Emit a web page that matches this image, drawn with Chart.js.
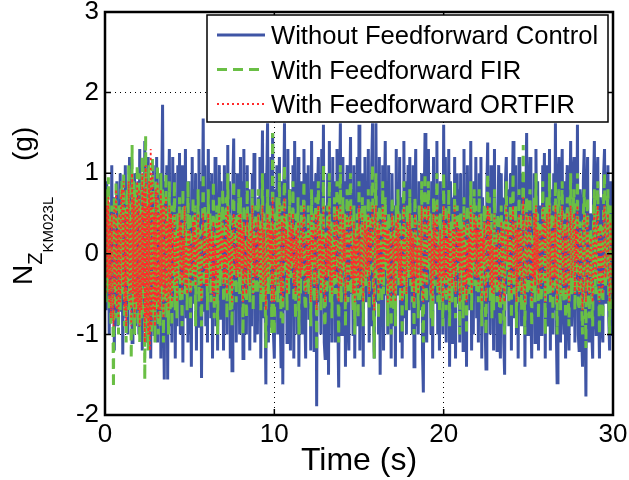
<!DOCTYPE html>
<html>
<head>
<meta charset="utf-8">
<title>N_Z KM023L vs time</title>
<script src="https://cdn.jsdelivr.net/npm/chart.js@4.4.1/dist/chart.umd.min.js"></script>
<style>
  html, body { margin: 0; padding: 0; background: #fff; }
</style>
</head>
<body>
<canvas id="nzChart" width="629" height="480"></canvas>
<script>
// sample spacing of the traces (s)
const timeStep = 0.05;

const seriesNames = [
  "Without Feedforward Control",
  "With Feedforward FIR",
  "With Feedforward ORTFIR",
];

// N_Z at KM023L (g), one value per 0.05 s (one row = 1 s)
const withoutFF = [
  0.2, -0.7, 0.9, -0.3, 0.6, -1.0, 0.4, -0.8, 1.1, -0.5, 0.7, -1.2, 0.3, -0.6, 0.9, -0.9, 0.5, -0.4, 1.0, -0.7,
  0.8, -1.25, 0.5, -0.3, 1.1, -0.8, 0.6, -1.0, 0.2, 1.2, -0.6, 0.4, -1.1, 0.9, -0.5, 1.0, -0.9, 0.3, -0.7, 0.9,
  -1.0, 1.3, -0.4, 0.8, -1.2, 0.5, -0.7, 1.4, -0.9, 0.6, -1.1, 1.2, -0.5, 0.9, -1.3, 0.7, -0.6, 1.1, -1.0, 0.4,
  -0.8, 1.2, -1.1, 0.6, -0.4, 1.0, -1.3, 0.8, 1.85, -0.5, -1.56, 0.9, -0.7, 1.1, -1.56, 0.5, 1.3, -0.9, 0.6, -1.1,
  1.2, -0.6, 1.0, -1.3, 0.4, -0.9, 1.1, -0.5, 1.25, -1.0, 0.3, 1.1, -1.35, 0.7, -0.4, 1.3, -0.8, 0.6, -1.1, 0.9,
  -1.0, 0.5, -1.4, 1.2, -0.6, 0.8, -0.3, 1.0, -1.2, 0.7, -0.9, 1.3, -0.5, 0.9, -1.54, 0.4, 1.68, -0.7, 1.1, -0.9,
  0.6, -1.1, 1.3, -0.4, 0.9, -0.8, 1.0, -1.3, 0.5, -0.6, 1.2, -0.9, 0.7, -1.2, 0.3, 1.1, -0.8, 0.9, -0.5, 0.6,
  -1.2, 1.1, -0.5, 0.7, -1.0, 1.35, -0.6, 0.9, -1.3, 0.4, -1.45, 0.8, 1.43, -0.7, 0.5, -1.1, 1.0, -0.4, 0.8, -1.0,
  1.2, -0.5, 0.9, -1.3, 1.3, -0.7, 0.4, -1.0, 1.1, -0.6, 0.8, -1.2, 0.5, -0.9, 1.0, -0.4, 1.25, -1.1, 0.6, -0.8,
  -1.0, 0.7, -0.4, 1.2, -1.3, 0.6, 1.53, -0.8, 1.0, -0.5, -1.62, 0.9, 1.62, -1.1, 0.7, -0.9, 1.2, -0.6, 1.5, -1.0,
  -1.3, 0.8, -0.5, 1.1, -1.0, 0.4, 1.2, -0.8, -1.4, 0.9, -1.62, 0.6, 1.62, -0.7, 0.9, -1.1, 1.3, -0.5, 0.8, -1.2,
  0.8, -0.6, 1.1, -1.3, 1.4, -0.4, 0.7, -1.0, 1.2, -1.4, 0.5, -0.8, 0.9, -1.0, 0.4, 1.3, -0.7, -1.3, 1.0, -0.5,
  1.1, -0.8, 0.6, -1.2, 1.4, -0.5, 0.9, -1.2, 0.3, 1.0, -1.89, 0.7, 1.2, -0.6, 0.8, -1.0, 1.3, -0.4, 1.6, -1.1,
  -1.3, 0.6, -0.9, 1.0, -1.5, 1.4, -0.5, 0.8, -1.1, 1.2, -0.7, 0.9, -1.1, 0.5, 1.3, -0.8, -1.66, 0.7, 1.62, -1.0,
  -1.0, 1.2, -0.6, 0.9, -1.4, 0.4, 1.1, -0.8, -1.2, 0.6, 1.45, -0.5, 0.8, -1.0, 1.1, -1.3, 0.6, -0.7, 1.2, -0.9,
  1.6, -1.2, 0.5, -0.8, 1.0, -1.4, 0.7, 1.2, -0.6, 0.9, -0.4, 1.3, -1.1, 0.6, -0.9, 1.1, 1.62, -0.7, -1.3, 0.8,
  1.62, -0.6, 0.9, -1.0, 1.2, -1.5, 0.4, -0.8, 1.1, -1.2, 0.6, 1.4, -0.5, 0.9, -1.0, 1.1, -0.7, 0.5, -1.3, 1.0,
  1.0, -0.9, 0.6, -1.4, 1.3, -0.5, 0.8, -0.3, 1.2, -1.1, 0.7, -1.3, 0.4, 1.4, -0.8, 0.9, -1.0, 0.5, 1.1, -0.7,
  1.2, -0.5, 0.8, -1.0, 1.1, -1.4, 0.6, 1.3, -0.9, 0.4, -1.0, 0.9, 0.4, -0.7, 1.0, -1.2, -1.72, 0.6, 1.5, -0.8,
  -1.1, 0.7, 1.3, -0.6, 0.4, -1.0, 0.9, -1.3, 1.2, -0.5, 0.8, -0.6, 1.4, -1.0, 0.5, -1.2, 0.9, -0.7, 0.5, -1.0,
  1.6, -0.8, 1.2, -1.1, 0.6, -0.5, 1.3, -1.4, 0.9, 0.3, -1.1, 0.7, -0.8, 1.2, -1.3, 0.5, 1.0, -0.6, 0.8, -1.1,
  1.0, -0.6, 0.7, -1.2, 1.3, -0.9, 0.4, -1.4, 1.1, -0.5, 0.8, -0.7, 1.4, -1.2, 0.6, -1.0, 0.9, -0.4, 1.2, -0.8,
  0.6, -1.1, 1.0, -0.5, 1.2, -1.3, 0.7, -0.4, 0.5, -0.9, -1.43, 0.8, 1.38, -0.6, 0.9, -1.0, 1.1, -0.7, 0.4, -1.2,
  1.3, -0.8, 0.5, -1.2, 0.4, 1.1, -0.9, -1.3, 1.0, -0.6, 0.7, -1.1, -1.5, 0.9, 1.2, -0.5, 0.8, -0.9, 0.6, 1.0,
  -1.2, 0.6, 1.4, -0.8, -0.4, 1.1, -1.0, 0.7, -1.3, 1.2, -0.6, 0.8, -0.9, 1.0, -0.5, 0.9, -1.4, 0.6, 1.5, -1.0,
  -1.0, 0.8, 1.2, -0.7, -1.3, 0.5, -0.8, 1.0, -1.1, 1.3, -0.6, 0.9, -1.2, 0.4, 0.6, -1.0, -0.8, 1.1, 0.5, 1.25,
  -1.3, 0.7, 1.1, -0.9, -0.5, 1.3, -1.2, 0.8, 0.6, -1.0, 1.0, -0.7, 1.62, -0.9, -1.6, 0.8, 1.2, -0.6, -1.1, 0.9,
  1.3, -0.6, -1.0, 0.9, -1.3, 0.7, 1.1, -0.8, -1.2, 0.5, 1.4, -0.9, -0.5, 1.0, 1.2, -1.1, 0.6, -0.7, 1.6, -1.0,
  -1.2, 0.8, 0.6, -1.0, -1.4, 0.9, 1.3, -0.6, -1.77, 0.7, 1.2, -0.9, -1.1, 0.5, 0.4, -1.0, -1.3, 0.8, 1.4, -0.7,
  -1.0, 0.9, 1.2, -0.5, -1.3, 0.7, 0.5, -0.9, -1.1, 1.0, 1.3, -0.6, -0.6, 1.0, 1.1, -0.8, -1.2, 0.9, 0.6, -1.0,
  -1.0,
];

const withFIR = [
  0.3, -0.6, 0.8, -0.4, 0.95, -0.7, 0.5, -0.9, 0.6, -0.3, -1.66, 0.7, -0.5, 0.9, -0.8, 0.4, -1.0, 0.6, -0.7, 0.8,
  0.9, -0.5, 1.0, -0.9, 0.6, -1.1, 0.8, -0.4, 1.1, -0.7, 0.5, -1.3, 1.35, -0.6, 0.9, -1.0, 0.8, -0.7, 1.1, -0.9,
  1.0, -1.1, 0.6, -0.8, 1.2, -0.5, 0.9, -1.56, 1.47, -1.0, 0.7, -1.2, 1.1, -0.6, 0.9, -1.0, 1.2, -0.8, 0.5, -1.1,
  0.9, -0.7, 1.1, -1.0, 0.6, -0.9, 1.0, -0.5, 0.8, -1.1, 0.7, -0.6, 1.0, -0.8, 0.5, -1.0, 0.9, -0.7, 0.6, -0.9,
  0.6, -0.4, 0.9, -0.7, 0.3, -0.8, 0.5, -0.3, 0.7, -0.6, 0.4, -0.9, 0.8, -0.2, 0.6, -0.5, 0.3, -0.7, 0.9, -0.4,
  0.5, -0.8, 0.2, -0.4, 0.7, -0.3, 0.6, -0.9, 0.4, -0.2, 0.8, -0.6, 0.3, -0.5, -0.9, 0.2, 1.0, -0.4, 0.6, -0.3,
  0.4, -0.7, 0.8, -0.2, 0.5, -0.6, 0.3, -0.4, 0.9, -0.8, 0.2, -0.5, 0.6, -1.0, 0.3, 0.7, -0.4, 0.5, -0.3, 0.8,
  -0.6, 0.3, -0.4, 0.7, -0.8, 1.0, -0.2, 0.5, -0.7, 0.3, -0.9, 0.6, 0.9, -0.4, 0.2, -0.6, 0.5, -0.3, 0.8, -0.5,
  0.7, -0.3, 0.4, -1.0, 0.6, -0.5, 0.2, -0.8, 0.9, -0.4, 0.3, -0.6, 0.5, -0.2, 0.8, -0.7, 0.4, -0.5, 0.6, -0.3,
  -0.5, 0.8, -0.3, 0.4, -0.7, 0.2, 1.0, -0.6, 0.5, -0.4, -1.17, 0.3, 0.8, -0.5, 0.6, -0.2, 0.4, -1.0, 1.5, -0.6,
  -1.0, 0.5, -0.3, 0.7, -0.6, 0.2, 1.0, -0.4, -0.8, 0.6, -0.9, 0.3, 1.1, -0.2, 0.5, -0.7, 0.4, -0.5, 0.8, -0.3,
  0.4, -0.2, 0.9, -0.6, 0.3, -0.8, 0.5, -0.4, 0.7, -1.0, 0.2, -0.5, 0.6, -0.3, 0.4, 0.9, -0.6, -0.7, 0.3, -0.4,
  0.6, -0.5, 0.3, -0.9, 0.8, -0.2, 0.5, -0.6, 0.2, 0.7, -1.2, 0.4, 0.9, -0.3, 0.5, -0.7, 0.3, -0.4, 1.1, -0.8,
  -0.9, 0.3, -0.5, 0.6, -0.3, 1.0, -0.6, 0.4, -0.8, 0.2, -0.4, 0.7, -0.5, 0.3, 0.9, -0.2, -1.1, 0.5, 1.1, -0.6,
  -0.4, 0.7, -0.2, 0.5, -0.9, 0.3, 0.8, -0.6, -0.3, 0.4, 1.0, -0.5, 0.2, -0.7, 0.6, -1.0, 0.3, -0.4, 0.5, -0.8,
  0.9, -0.6, 0.3, -0.5, 0.7, -0.9, 0.2, 0.6, -0.4, 0.5, -0.3, 0.8, -0.7, 0.4, -0.2, 0.6, 1.1, -0.5, -1.3, 0.4,
  1.0, -0.3, 0.5, -0.8, 0.6, -0.4, 0.2, -0.6, 0.9, -0.5, 0.3, 0.7, -0.2, 0.4, -0.9, 0.5, -0.6, 0.3, -1.0, 0.7,
  0.5, -0.7, 0.3, -0.9, 0.6, -0.2, 0.8, -0.4, 0.5, -0.6, 0.2, -1.0, 0.4, 0.9, -0.5, 0.3, -0.7, 0.6, 0.4, -0.3,
  0.8, -0.4, 0.5, -0.6, 0.3, -1.0, 0.7, 0.4, -0.5, 0.2, -0.8, 0.6, 0.3, -0.4, 0.9, -0.7, -1.1, 0.5, 1.0, -0.3,
  -0.6, 0.4, 0.9, -0.2, 0.5, -0.8, 0.3, -0.9, 0.7, -0.4, 0.6, -0.3, 1.0, -0.6, 0.2, -0.7, 0.5, -0.4, 0.3, -0.9,
  1.0, -0.4, 0.6, -0.7, 0.3, -0.5, 0.8, -0.9, 0.4, 0.2, -0.6, 0.5, -0.3, 0.9, -0.8, 0.3, 0.6, -0.2, 0.5, -1.0,
  0.5, -0.3, 0.4, -0.8, 0.7, -0.6, 0.2, -1.0, 0.6, -0.4, 0.3, -0.5, 0.9, -0.7, 0.5, -0.2, 0.8, -0.4, 0.6, -0.5,
  0.4, -0.6, 0.8, -0.3, 0.5, -0.9, 0.3, -0.2, 0.6, -0.5, -1.0, 0.4, 1.0, -0.3, 0.7, -0.6, 0.5, -0.8, 0.2, -0.7,
  0.8, -0.4, 0.2, -0.6, 0.5, 0.3, -0.7, -0.9, 0.6, -0.3, 0.4, -0.8, -1.0, 0.5, 0.9, -0.2, 0.4, -0.6, 0.3, 0.7,
  -0.8, 0.3, 1.0, -0.5, -0.2, 0.6, -0.92, 0.4, -0.6, 0.8, -0.3, 0.5, -0.7, 0.2, 1.35, -0.4, -1.0, 0.3, 0.7, -0.5,
  -0.4, 0.6, 0.8, -0.3, -0.9, 0.2, -0.5, 0.7, -0.6, 1.0, -0.3, 0.5, -0.8, 0.3, 0.4, -0.6, -0.4, 0.9, 0.2, 0.6,
  -1.0, 0.4, 0.7, -0.5, -0.2, 1.0, -0.6, 0.3, 0.5, -0.8, 0.6, -0.4, 0.9, -0.3, -1.0, 0.5, 0.8, -0.2, -0.7, 0.4,
  0.9, -0.3, -0.6, 0.5, -0.8, 0.2, 0.7, -0.4, -0.9, 0.3, 1.0, -0.5, -0.3, 0.6, 0.8, -0.7, 0.4, -0.2, 1.0, -0.6,
  -0.7, 0.4, 0.3, -0.6, -1.0, 0.5, 0.8, -0.3, -1.17, 0.4, 0.7, -0.5, -0.8, 0.2, 0.3, -0.6, -0.9, 0.5, 0.8, -0.4,
  -0.5, 0.6, 0.9, -0.3, -1.0, 0.4, 0.2, -0.6, -0.8, 0.7, 1.0, -0.4, -0.3, 0.5, 0.8, -0.5, -1.0, 0.6, 0.3, -0.7,
  -0.7,
];

const withORTFIR = [
  0.1, -0.5, 0.6, -0.3, 0.7, -0.6, 0.4, -0.8, 0.5, -0.3, -0.9, 0.6, -0.4, 0.8, -0.7, 0.3, -0.8, 0.5, -0.6, 0.7,
  0.8, -0.4, 0.9, -0.7, 0.5, -0.9, 0.6, -0.3, 0.9, -0.6, 0.4, -0.9, 1.0, -0.5, 0.7, -0.8, 0.6, -0.6, 0.9, -0.7,
  0.8, -0.9, 0.5, -0.7, 1.0, -0.4, 0.8, -1.1, 1.1, -0.8, 0.6, -1.0, 0.9, -1.2, 1.3, -0.9, 1.0, -0.7, 0.5, -0.9,
  0.8, -0.6, 0.9, -0.8, 0.5, -0.7, 0.8, -0.4, 0.6, -0.8, 0.6, -0.5, 0.7, -0.6, 0.4, -0.7, 0.6, -0.5, 0.5, -0.6,
  0.4, -0.2, 0.5, -0.4, 0.2, -0.6, 0.3, -0.1, 0.5, -0.3, 0.4, -0.5, 0.2, -0.3, 0.6, -0.4, 0.1, -0.5, 0.3, -0.2,
  0.3, -0.5, 0.1, -0.2, 0.4, -0.3, 0.5, -0.4, 0.2, -0.1, 0.5, -0.3, 0.2, -0.4, -0.6, 0.1, 0.5, -0.2, 0.3, -0.4,
  0.2, -0.4, 0.5, -0.1, 0.3, -0.3, 0.2, -0.5, 0.4, -0.6, 0.1, -0.3, 0.4, -0.5, 0.2, 0.5, -0.2, 0.3, -0.1, 0.4,
  -0.4, 0.2, -0.3, 0.5, -0.5, 0.6, -0.1, 0.3, -0.4, 0.2, -0.6, 0.4, 0.5, -0.2, 0.1, -0.3, 0.4, -0.2, 0.5, -0.3,
  0.5, -0.2, 0.3, -0.6, 0.4, -0.3, 0.1, -0.5, 0.5, -0.2, 0.2, -0.4, 0.3, -0.1, 0.6, -0.5, 0.2, -0.3, 0.4, -0.2,
  -0.3, 0.5, -0.2, 0.3, -0.5, 0.1, 0.6, -0.4, 0.3, -0.2, -0.7, 0.2, 0.5, -0.3, 0.4, -0.1, 0.3, -0.6, 0.7, -0.4,
  -0.6, 0.3, -0.2, 0.4, -0.4, 0.1, 0.6, -0.3, -0.5, 0.4, -0.6, 0.2, 0.7, -0.1, 0.3, -0.5, 0.2, -0.3, 0.5, -0.2,
  0.3, -0.1, 0.5, -0.4, 0.2, -0.5, 0.3, -0.2, 0.4, -0.6, 0.1, -0.3, 0.4, -0.2, 0.3, 0.6, -0.4, -0.5, 0.2, -0.3,
  0.4, -0.3, 0.2, -0.6, 0.5, -0.1, 0.3, -0.4, 0.1, 0.5, -0.7, 0.3, 0.6, -0.2, 0.3, -0.5, 0.2, -0.3, 0.6, -0.5,
  -0.6, 0.2, -0.3, 0.4, -0.2, 0.6, -0.4, 0.3, -0.5, 0.1, -0.3, 0.5, -0.3, 0.2, 0.6, -0.1, -0.6, 0.3, 0.6, -0.4,
  -0.3, 0.5, -0.1, 0.3, -0.6, 0.2, 0.5, -0.4, -0.2, 0.3, 0.6, -0.3, 0.1, -0.5, 0.4, -0.6, 0.2, -0.3, 0.3, -0.5,
  0.6, -0.4, 0.2, -0.3, 0.5, -0.6, 0.1, 0.4, -0.3, 0.3, -0.2, 0.5, -0.5, 0.3, -0.1, 0.4, 0.6, -0.3, -0.7, 0.3,
  0.6, -0.2, 0.3, -0.5, 0.4, -0.3, 0.1, -0.4, 0.6, -0.3, 0.2, 0.5, -0.1, 0.3, -0.6, 0.3, -0.4, 0.2, -0.6, 0.5,
  0.3, -0.5, 0.2, -0.6, 0.4, -0.1, 0.5, -0.3, 0.3, -0.4, 0.1, -0.6, 0.3, 0.6, -0.3, 0.2, -0.5, 0.4, 0.3, -0.2,
  0.5, -0.3, 0.3, -0.4, 0.2, -0.6, 0.5, 0.3, -0.3, 0.1, -0.5, 0.4, 0.2, -0.3, 0.6, -0.5, -0.6, 0.3, 0.6, -0.2,
  -0.4, 0.3, 0.6, -0.1, 0.3, -0.5, 0.2, -0.6, 0.5, -0.3, 0.4, -0.2, 0.6, -0.4, 0.1, -0.5, 0.3, -0.3, 0.2, -0.6,
  0.6, -0.3, 0.4, -0.5, 0.2, -0.3, 0.5, -0.6, 0.3, 0.1, -0.4, 0.3, -0.2, 0.6, -0.5, 0.2, 0.4, -0.1, 0.3, -0.6,
  0.3, -0.2, 0.3, -0.5, 0.5, -0.4, 0.1, -0.6, 0.4, -0.3, 0.2, -0.3, 0.6, -0.5, 0.3, -0.1, 0.5, -0.3, 0.4, -0.3,
  0.3, -0.4, 0.5, -0.2, 0.3, -0.6, 0.2, -0.1, 0.4, -0.3, -0.6, 0.3, 0.6, -0.2, 0.5, -0.4, 0.3, -0.5, 0.1, -0.5,
  0.5, -0.3, 0.1, -0.4, 0.3, 0.2, -0.5, -0.6, 0.4, -0.2, 0.3, -0.5, -0.6, 0.3, 0.6, -0.1, 0.3, -0.4, 0.2, 0.5,
  -0.5, 0.2, 0.6, -0.3, -0.1, 0.4, -0.6, 0.3, -0.4, 0.5, -0.2, 0.3, -0.5, 0.1, 0.7, -0.3, -0.6, 0.2, 0.5, -0.3,
  -0.3, 0.4, 0.5, -0.2, -0.6, 0.1, -0.3, 0.5, -0.4, 0.6, -0.2, 0.3, -0.5, 0.2, 0.3, -0.4, -0.3, 0.6, 0.1, 0.4,
  -0.6, 0.3, 0.5, -0.3, -0.1, 0.6, -0.4, 0.2, 0.3, -0.5, 0.4, -0.3, 0.6, -0.2, -0.6, 0.3, 0.5, -0.1, -0.5, 0.3,
  0.6, -0.2, -0.4, 0.3, -0.5, 0.1, 0.5, -0.3, -0.6, 0.2, 0.6, -0.3, -0.2, 0.4, 0.5, -0.5, 0.3, -0.1, 0.6, -0.4,
  -0.5, 0.3, 0.2, -0.4, -0.7, 0.3, 0.5, -0.2, -0.6, 0.3, 0.5, -0.3, -0.5, 0.1, 0.2, -0.4, -0.6, 0.3, 0.5, -0.3,
  -0.3, 0.4, 0.6, -0.2, -0.6, 0.3, 0.1, -0.4, -0.5, 0.5, 0.6, -0.3, -0.2, 0.3, 0.5, -0.3, -0.6, 0.4, 0.2, -0.5,
  -0.4,
];

const xTicks = [0, 10, 20, 30];
const yTicks = [-2, -1, 0, 1, 2, 3];

const fontFamily = "'Liberation Sans', Arial, Helvetica, sans-serif";

function toPoints(values) {
  return values.map((v, i) => ({ x: i * timeStep, y: v }));
}

// MATLAB-ish box, inward ticks, legend and the y label with subscripts
const matlabAxes = {
  id: "matlabAxes",
  afterDatasetsDraw(chart) {
    const { ctx, chartArea: a, scales } = chart;
    ctx.save();
    ctx.strokeStyle = "#000";
    ctx.setLineDash([]);
    ctx.lineWidth = 1.5;
    ctx.beginPath();
    xTicks.forEach((v) => {
      const px = scales.x.getPixelForValue(v);
      ctx.moveTo(px, a.bottom); ctx.lineTo(px, a.bottom - 6);
      ctx.moveTo(px, a.top); ctx.lineTo(px, a.top + 6);
    });
    yTicks.forEach((v) => {
      const py = scales.y.getPixelForValue(v);
      ctx.moveTo(a.left, py); ctx.lineTo(a.left + 6, py);
      ctx.moveTo(a.right, py); ctx.lineTo(a.right - 6, py);
    });
    ctx.stroke();
    ctx.lineWidth = 2.5;
    ctx.strokeRect(a.left, a.top, a.right - a.left, a.bottom - a.top);
    ctx.restore();
  },
  afterDraw(chart) {
    const { ctx, chartArea: a } = chart;

    // legend
    const bx = a.left + 102, by = a.top + 3, bw = 401, bh = 107;
    ctx.save();
    ctx.fillStyle = "#fff";
    ctx.fillRect(bx, by, bw, bh);
    ctx.strokeStyle = "#000";
    ctx.lineWidth = 1.5;
    ctx.strokeRect(bx, by, bw, bh);
    ctx.font = "25.6px " + fontFamily;
    ctx.textBaseline = "alphabetic";
    chart.data.datasets.forEach((ds, i) => {
      const base = by + 29 + i * 34.5;
      ctx.strokeStyle = ds.borderColor;
      ctx.lineWidth = ds.borderWidth;
      ctx.setLineDash(ds.borderDash || []);
      ctx.beginPath();
      ctx.moveTo(bx + 10, base - 9);
      ctx.lineTo(bx + 58, base - 9);
      ctx.stroke();
      ctx.fillStyle = "#000";
      ctx.fillText(ds.label, bx + 64, base);
    });
    ctx.restore();

    // y axis label: N_{Z_{KM023L}} (g)
    ctx.save();
    ctx.translate(32, 285);
    ctx.rotate(-Math.PI / 2);
    ctx.fillStyle = "#000";
    ctx.textBaseline = "alphabetic";
    ctx.font = "28px " + fontFamily;
    ctx.fillText("N", 0, 0);
    let w = ctx.measureText("N").width;
    ctx.font = "20px " + fontFamily;
    ctx.fillText("Z", w, 10);
    w += ctx.measureText("Z").width;
    ctx.font = "15px " + fontFamily;
    ctx.fillText("KM023L", w, 21);
    ctx.font = "28px " + fontFamily;
    ctx.fillText("(g)", 124, 0);
    ctx.restore();
  },
};

const ctx = document.getElementById("nzChart").getContext("2d");

new Chart(ctx, {
  type: "line",
  data: {
    datasets: [
      {
        label: seriesNames[0],
        data: toPoints(withoutFF),
        borderColor: "#3f55a5",
        borderWidth: 3,
        order: 3,
      },
      {
        label: seriesNames[1],
        data: toPoints(withFIR),
        borderColor: "#6abf45",
        borderWidth: 3,
        borderDash: [10, 6],
        order: 2,
      },
      {
        label: seriesNames[2],
        data: toPoints(withORTFIR),
        borderColor: "#ff2a2a",
        borderWidth: 1.8,
        borderDash: [2, 3],
        order: 1,
      },
    ],
  },
  options: {
    responsive: false,
    animation: false,
    parsing: false,
    elements: {
      point: { radius: 0 },
      line: { tension: 0 },
    },
    layout: { padding: { left: 0, right: 16, top: 12, bottom: 0 } },
    plugins: {
      legend: { display: false },
      tooltip: { enabled: false },
    },
    scales: {
      x: {
        type: "linear",
        min: 0,
        max: 30,
        afterBuildTicks: (s) => {
          s.ticks = xTicks.map((v) => ({ value: v }));
        },
        afterFit: (s) => {
          s.height = 65;
          s.paddingLeft = 0;
          s.paddingRight = 0;
        },
        grid: { color: "#000", lineWidth: 1, drawTicks: false },
        border: { display: false, dash: [1, 4] },
        ticks: {
          color: "#000",
          font: { family: fontFamily, size: 26 },
          padding: 4,
          maxRotation: 0,
        },
        title: {
          display: true,
          text: "Time (s)",
          color: "#000",
          font: { family: fontFamily, size: 32, lineHeight: 1 },
          padding: { top: 0, bottom: 3 },
        },
      },
      y: {
        type: "linear",
        min: -2,
        max: 3,
        afterBuildTicks: (s) => {
          s.ticks = yTicks.map((v) => ({ value: v }));
        },
        afterFit: (s) => {
          s.width = 105;
          s.paddingTop = 0;
          s.paddingBottom = 0;
        },
        grid: { color: "#000", lineWidth: 1, drawTicks: false },
        border: { display: false, dash: [1, 4] },
        ticks: {
          color: "#000",
          font: { family: fontFamily, size: 26 },
          padding: 6,
        },
      },
    },
  },
  plugins: [matlabAxes],
});
</script>
</body>
</html>
